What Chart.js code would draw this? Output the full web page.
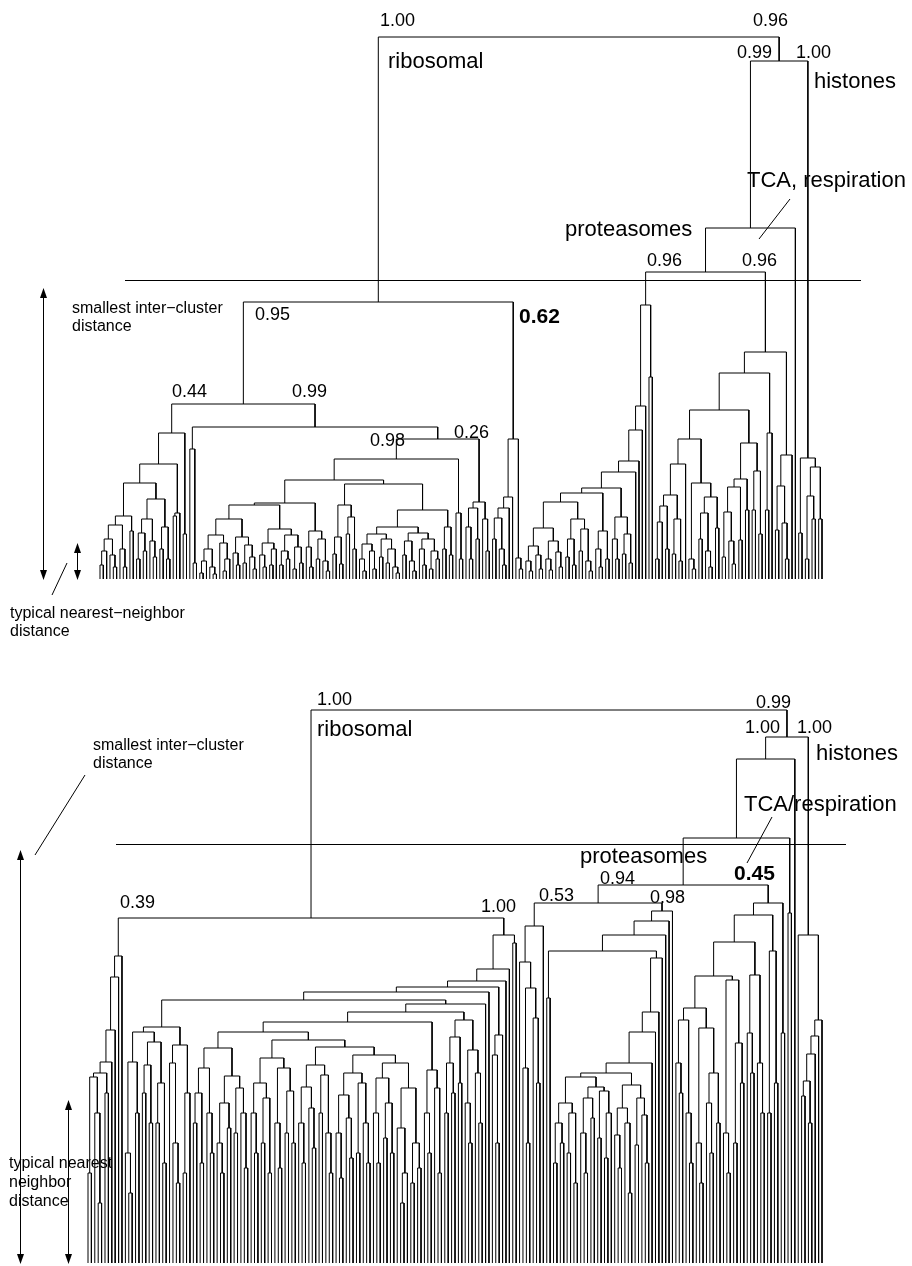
<!DOCTYPE html>
<html>
<head>
<meta charset="utf-8">
<script src="https://cdn.jsdelivr.net/npm/chart.js@4/dist/chart.umd.min.js"></script>
<style>
  html, body { margin: 0; padding: 0; background: #fff; }
  body { width: 912px; height: 1266px; position: relative; overflow: hidden; }
  .panel { position: absolute; left: 0; width: 912px; }
  canvas { display: block; }
</style>
</head>
<body>
<div class="panel" style="top:0;height:660px"><canvas id="upper" width="912" height="660"></canvas></div>
<div class="panel" style="top:660px;height:606px"><canvas id="lower" width="912" height="606"></canvas></div>
<script>
// Trees are written as nested merges: [height, left, right]; a bare 0 is a single gene (leaf).
// Heights are join distances in plot units above the leaf baseline.

// ---------- upper dendrogram ----------
const upper044 = [146,
  [115,
    [96,
      [63, [54, [40, [28, [14,0,0], 0], [24, 0, [12,0,0]]], [30,0,[12,0,0]]], [48,0,0]],
      [80, [60, [46,[20,0,0],[28,0,0]], [38,0,[22,0,0]]], [52,[30,0,0],[20,0,0]]]
    ],
    [66, [63,0,0], 0]
  ],
  [45,0,0]
];
const upper099a = [130, 0, [16,0,0]];
const upperC1c = [60,
  [44, [30,[18,[6,0,0],0],[12,0,[5,0,0]]], [36,0,[20,[8,0,0],0]]],
  [42, [26,0,[14,0,0]], [34,[16,0,0],[22,0,[10,0,0]]]]
];
const upperC1d = [50,
  [36, [24,0,[12,0,0]], [30,[14,0,0],0]],
  [44, [28,[14,0,0],[20,0,0]], [32,[10,0,0],[16,0,0]]]
];
const upperC1b = [48, [32,0,[12,0,0]], [40,[20,0,0],[18,0,[8,0,0]]]];
const upperC2a = [74, [42,[25,0,0],[15,0,0]], [62,[45,0,0],[30,0,0]]];
const upperC2e = [45, [35,[20,0,[8,0,0]],[28,0,[10,0,0]]], [40,[22,0,0],[30,[16,0,0],[12,0,[6,0,0]]]]];
const upperC2f = [46, [38,[24,0,0],[18,0,[8,0,0]]], [40,[30,0,[14,0,0]],[28,[10,0,0],[20,0,0]]]];
const upperC2d = [52, [30,0,0], [24,0,0]];
const upper098 = [120,
  [99, [76, [74, upperC1c, upperC1d], upperC1b], [95, upperC2a, [69, [52, upperC2e, upperC2f], upperC2d]]],
  [66, 0, [20,0,0]]
];
const upper026 = [77, [71,[52,0,[20,0,0]],[40,0,0]], [60,0,[28,0,0]]];
const upper099 = [152, upper099a, [140, upper098, upper026]];
const upper062 = [140, [82, [71, [61, [40,0,0], [30,0,[14,0,0]]], 0], 0], [21,0,[10,0,0]]];
const upperRibosomal = [277, [175, upper044, upper099], upper062];

const upperProtA = [51, [33,[18,0,[8,0,0]],[24,0,[10,0,0]]], [38,[20,0,[9,0,0]],[27,0,[12,0,0]]]];
const upperProtB = [60, [40,[22,0,0],[14,0,0]], [50,[28,0,0],[18,0,[8,0,0]]]];
const upperProtC = [48, [30,0,[12,0,0]], [20,0,0]];
const upperProtD = [62, [40,0,[20,0,0]], [45,[25,0,0],[16,0,0]]];
const upperProteasome = [274,
  [173, [149, [118, [107, [91, [86, [77, upperProtA, upperProtB], upperProtC], upperProtD], 0], 0], 0], 0],
  [202,0,0]
];
const upperTcaA = [115, [84, [73, [57,[20,0,0],0], [30,0,0]], [60,[25,0,0],[18,0,0]]], 0];
const upperTcaB = [96, [20,0,[10,0,0]], [82, [66,[40,0,0],[28,0,[12,0,0]]], [51,0,0]]];
const upperTcaC = [136, [100, [92, [67,[22,0,0],[38,0,[15,0,0]]], [39,0,0]], [69,0,0]], [108, [69,0,0], [45,0,0]]];
const upperTcaD = [146, [69,0,0], 0];
const upperTcaE = [124, [93,[49,0,0],[56,0,[20,0,0]]], 0];
const upperTca = [227, [206, [169, [140, upperTcaA, upperTcaB], upperTcaC], upperTcaD], upperTcaE];
const upperHistones = [121, [46,0,0], [112, [83,[20,0,0],[60,0,0]], [60,0,0]]];
const upperTree = [542, upperRibosomal, [518, [351, [307, upperProteasome, upperTca], 0], upperHistones]];

// ---------- lower dendrogram ----------
const lower039 = [307, [286, [233, [201, [190, [186, [90,0,0], [150,0,[60,0,0]]], [170,0,0]], 0], 0], 0], 0];
const lowerR24 = [195, [170,[140,0,0],[100,0,0]], [150,0,[110,0,0]]];
const lowerR25 = [187, [160,[120,0,[90,0,0]],[135,0,0]], [175,[130,0,0],[150,0,[95,0,0]]]];
const lowerR22 = [205, [180,[150,0,[110,0,0]],[165,[120,0,0],[90,0,0]]], [195,[140,0,[95,0,0]],[172,[130,0,0],[120,0,0]]]];
const lowerR26 = [198, [176,[140,0,[100,0,0]],[155,0,[115,0,0]]], [188,[150,0,0],[130,0,[90,0,0]]]];
const lowerR28 = [190, [168,[130,0,[85,0,0]],[145,0,[105,0,0]]], [180,[110,0,0],[140,0,[100,0,0]]]];
const lowerR29 = [200, [185,[150,0,[100,0,0]],[160,[125,0,0],[110,0,0]]], [175,[135,0,[90,[60,0,0],0]],[120,[80,0,0],[95,0,0]]]];
const lowerR14 = [231, [215, lowerR24, lowerR25], [223, lowerR22, [216, lowerR26, [208, lowerR28, lowerR29]]]];
const lowerR15 = [193, [150,0,[110,0,0]], [175,0,[90,0,0]]];
const lowerR13 = [243, [226,[200,[150,0,0],[170,0,0]],[180,0,0]], [213,[160,0,[120,0,0]],[190,0,[140,0,0]]]];
const lowerR18 = [201, [110,0,[70,0,0]], [150,0,0]];
const lowerR19 = [221, [198,[170,0,0],[140,0,0]], [180,[140,0,0],[100,0,0]]];
const lowerR17 = [218, [200,0,[120,0,[80,0,0]]], [170,[90,0,0],0]];
const lowerR5 = [228, [208,0,[120,0,0]], 0];
const lower100 = [328,
  [294, [282, [276, [271,
    [263, [236, [231, lowerR18, lowerR19], lowerR17], [259, [251, [241, lowerR14, lowerR15], lowerR13], 0]],
  0], lowerR5], 0], 0],
  [320,0,0]
];
const lowerRibosomal = [345, lower039, lower100];

const lower053 = [337, [301, 0, [275, [195,0,[120,0,0]], [245,0,[180,0,0]]]], 0];
const lowerProtA = [160, [140,[100,0,0],[120,0,0]], [150,[110,0,0],[80,0,0]]];
const lowerProtB = [176, [165,[130,0,[90,0,0]],[145,0,0]], [172,[125,0,0],[150,[105,0,0],0]]];
const lowerProtC = [178, [155,[128,0,[95,0,0]],[140,0,[70,0,0]]], [165,[118,0,0],[148,0,[100,0,0]]]];
const lowerProtBase = [190, [186, lowerProtA, lowerProtB], lowerProtC];
const lower098 = [352, [342, [328, [312, [265,0,0], [305, [251, [231, [200, lowerProtBase, 0], 0], 0], 0]], 0], 0], 0];
const lowerTcaA = [243, [200,0,[170,0,0]], [150,0,[100,0,0]]];
const lowerTcaB = [235, [120,0,[80,0,0]], [190,[160,0,[110,0,0]],[140,0,0]]];
const lowerTcaC = [283, [130,0,[90,0,0]], [220,[120,0,0],[180,0,0]]];
const lowerTcaD = [288, [230,0,[190,0,0]], [200,0,[150,0,0]]];
const lowerTcaE = [312, [150,0,0], [180,0,0]];
const lowerTca = [360, [348, [321, [287, [255, lowerTcaA, lowerTcaB], lowerTcaC], lowerTcaD], lowerTcaE], [230,0,0]];
const lowerHistones = [328, 0, [243, [227, [209, [182, [167,0,0], [140,0,0]], 0], 0], 0]];
const lowerTree = [553, lowerRibosomal,
  [526, [504, [425, [378, [360, lower053, lower098], lowerTca], [350,0,0]], 0], lowerHistones]];

// Walk a tree: leaves get consecutive positions, each merge sits midway over its two children.
function dendrogramPath(tree) {
  const pts = [];
  let leaf = 0;
  (function walk(node) {
    if (node === 0) { leaf += 1; return { x: leaf, h: 0 }; }
    const [h, a, b] = node;
    const L = walk(a), R = walk(b);
    pts.push({x: L.x, y: L.h}, {x: L.x, y: h}, {x: R.x, y: h}, {x: R.x, y: R.h}, {x: R.x, y: null});
    return { x: (L.x + R.x) / 2, h };
  })(tree);
  return { pts, leaves: leaf };
}

const FONT = '"Liberation Sans", Arial, Helvetica, sans-serif';

const notesPlugin = {
  id: 'notes',
  afterDatasetsDraw(chart, args, o) {
    const ctx = chart.ctx, ys = chart.scales.y;
    ctx.save();
    ctx.strokeStyle = '#000';
    ctx.fillStyle = '#000';
    ctx.lineWidth = 1;
    // horizontal cut through the tree
    const cy = Math.round(ys.getPixelForValue(o.cut.height)) + 0.5;
    ctx.beginPath(); ctx.moveTo(o.cut.x0, cy); ctx.lineTo(o.cut.x1, cy); ctx.stroke();
    // plain strokes
    for (const s of o.strokes) {
      ctx.beginPath(); ctx.moveTo(s[0], s[1]); ctx.lineTo(s[2], s[3]); ctx.stroke();
    }
    // double-headed vertical arrows
    for (const a of o.arrows) {
      const x = a.x + 0.5, hl = 10, hw = 3.5;
      ctx.beginPath(); ctx.moveTo(x, a.y0 + 4); ctx.lineTo(x, a.y1 - 4); ctx.stroke();
      ctx.beginPath(); ctx.moveTo(x, a.y0); ctx.lineTo(x - hw, a.y0 + hl); ctx.lineTo(x + hw, a.y0 + hl); ctx.closePath(); ctx.fill();
      ctx.beginPath(); ctx.moveTo(x, a.y1); ctx.lineTo(x - hw, a.y1 - hl); ctx.lineTo(x + hw, a.y1 - hl); ctx.closePath(); ctx.fill();
    }
    // text
    ctx.textBaseline = 'alphabetic';
    ctx.textAlign = 'left';
    for (const t of o.texts) {
      ctx.font = (t.bold ? 'bold ' : '') + t.size + 'px ' + FONT;
      ctx.fillText(t.text, t.x, t.y);
    }
    ctx.restore();
  }
};

function drawDendrogram(id, tree, frame, notes) {
  const { pts, leaves } = dendrogramPath(tree);
  const step = (frame.lastLeaf - frame.firstLeaf) / (leaves - 1);
  const xMin = 1 - frame.firstLeaf / step;
  const xMax = xMin + frame.width / step;
  const yMin = frame.baseline - frame.height;
  const yMax = frame.baseline;
  return new Chart(document.getElementById(id), {
    type: 'line',
    data: {
      datasets: [{
        data: pts,
        borderColor: '#000',
        borderWidth: 1,
        pointRadius: 0,
        tension: 0,
        fill: false,
        spanGaps: false
      }]
    },
    options: {
      responsive: false,
      animation: false,
      events: [],
      devicePixelRatio: 1,
      layout: { padding: 0 },
      plugins: { legend: { display: false }, tooltip: { enabled: false }, notes },
      scales: {
        x: { type: 'linear', min: xMin, max: xMax, display: false },
        y: { type: 'linear', min: yMin, max: yMax, display: false }
      }
    },
    plugins: [notesPlugin]
  });
}

drawDendrogram('upper', upperTree,
  { firstLeaf: 100, lastLeaf: 822, baseline: 579, width: 912, height: 660 },
  {
    cut: { height: 299, x0: 125, x1: 861 },
    strokes: [[790, 199, 759, 239], [67, 563, 52, 595]],
    arrows: [{ x: 43, y0: 288, y1: 580 }, { x: 77, y0: 543, y1: 580 }],
    texts: [
      { text: '1.00', x: 380, y: 26, size: 18 },
      { text: '0.96', x: 753, y: 26, size: 18 },
      { text: 'ribosomal', x: 388, y: 68, size: 22 },
      { text: '0.99', x: 737, y: 58, size: 18 },
      { text: '1.00', x: 796, y: 58, size: 18 },
      { text: 'histones', x: 814, y: 88, size: 22 },
      { text: 'TCA, respiration', x: 747, y: 187, size: 22 },
      { text: 'proteasomes', x: 565, y: 236, size: 22 },
      { text: '0.96', x: 647, y: 266, size: 18 },
      { text: '0.96', x: 742, y: 266, size: 18 },
      { text: '0.95', x: 255, y: 320, size: 18 },
      { text: '0.62', x: 519, y: 323, size: 21, bold: true },
      { text: '0.44', x: 172, y: 397, size: 18 },
      { text: '0.99', x: 292, y: 397, size: 18 },
      { text: '0.26', x: 454, y: 438, size: 18 },
      { text: '0.98', x: 370, y: 446, size: 18 },
      { text: 'smallest inter\u2212cluster', x: 72, y: 313, size: 16 },
      { text: 'distance', x: 72, y: 331, size: 16 },
      { text: 'typical nearest\u2212neighbor', x: 10, y: 618, size: 16 },
      { text: 'distance', x: 10, y: 636, size: 16 }
    ]
  });

const OFF = 660; // page offset of the lower panel
drawDendrogram('lower', lowerTree,
  { firstLeaf: 88, lastLeaf: 822, baseline: 1263 - OFF, width: 912, height: 606 },
  {
    cut: { height: 419, x0: 116, x1: 846 },
    strokes: [[772, 817 - OFF, 747, 863 - OFF], [85, 775 - OFF, 35, 855 - OFF]],
    arrows: [{ x: 20, y0: 850 - OFF, y1: 1264 - OFF }, { x: 68, y0: 1100 - OFF, y1: 1264 - OFF }],
    texts: [
      { text: '1.00', x: 317, y: 705 - OFF, size: 18 },
      { text: 'ribosomal', x: 317, y: 736 - OFF, size: 22 },
      { text: '0.99', x: 756, y: 708 - OFF, size: 18 },
      { text: '1.00', x: 745, y: 733 - OFF, size: 18 },
      { text: '1.00', x: 797, y: 733 - OFF, size: 18 },
      { text: 'histones', x: 816, y: 760 - OFF, size: 22 },
      { text: 'TCA/respiration', x: 744, y: 811 - OFF, size: 22 },
      { text: 'proteasomes', x: 580, y: 863 - OFF, size: 22 },
      { text: '0.45', x: 734, y: 880 - OFF, size: 21, bold: true },
      { text: '0.94', x: 600, y: 884 - OFF, size: 18 },
      { text: '0.98', x: 650, y: 903 - OFF, size: 18 },
      { text: '0.53', x: 539, y: 901 - OFF, size: 18 },
      { text: '1.00', x: 481, y: 912 - OFF, size: 18 },
      { text: '0.39', x: 120, y: 908 - OFF, size: 18 },
      { text: 'smallest inter\u2212cluster', x: 93, y: 750 - OFF, size: 16 },
      { text: 'distance', x: 93, y: 768 - OFF, size: 16 },
      { text: 'typical nearest', x: 9, y: 1168 - OFF, size: 16 },
      { text: 'neighbor', x: 9, y: 1187 - OFF, size: 16 },
      { text: 'distance', x: 9, y: 1206 - OFF, size: 16 }
    ]
  });
</script>
</body>
</html>
